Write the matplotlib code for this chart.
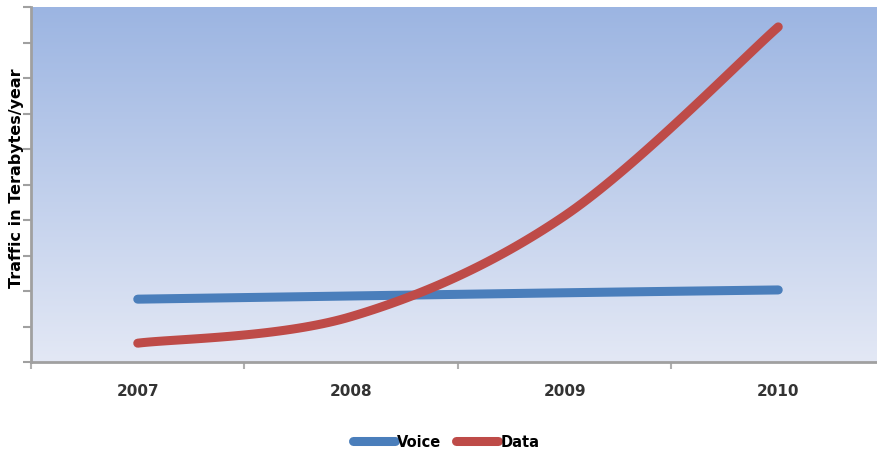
import numpy as np
import matplotlib.pyplot as plt
from matplotlib.colors import LinearSegmentedColormap

anos = ["2007", "2008", "2009", "2010"]
voz = [1.77, 1.86, 1.95, 2.03]
dados = [0.53, 1.28, 4.12, 9.44]

COR_VOZ = "#4a7ebb"
COR_DADOS = "#be4b48"


def suavizar(y, passos=40):
    """Bezier cubica pelos pontos, do jeito da linha suavizada do Excel."""
    pts = np.column_stack([np.arange(len(y)), np.asarray(y, dtype=float)])
    ext = np.vstack([pts[0], pts, pts[-1]])
    xs, ys = [], []
    for i in range(len(pts) - 1):
        p0, p1 = pts[i], pts[i + 1]
        c1 = p0 + (ext[i + 2] - ext[i]) / 6
        c2 = p1 - (ext[i + 3] - ext[i + 1]) / 6
        t = np.linspace(0, 1, passos)[:, None]
        b = ((1 - t) ** 3 * p0 + 3 * (1 - t) ** 2 * t * c1
             + 3 * (1 - t) * t ** 2 * c2 + t ** 3 * p1)
        xs.append(b[:, 0])
        ys.append(b[:, 1])
    return np.concatenate(xs), np.concatenate(ys)


fig = plt.figure(figsize=(8.78, 4.56), dpi=100)
ax = fig.add_axes([31 / 878, 93 / 456, 854 / 878, 355 / 456])

# fundo em degrade
cmap = LinearSegmentedColormap.from_list("fundo", ["#e3e8f5", "#9cb5e2"])
grad = np.linspace(0, 1, 256).reshape(-1, 1)
ax.imshow(grad, cmap=cmap, aspect="auto", origin="lower",
          extent=[-0.5, 3.5, 0, 10], zorder=0)

x = np.arange(len(anos))
xv, yv = suavizar(voz)
xd, yd = suavizar(dados)
ax.plot(xv, yv, color=COR_VOZ, linewidth=6.5, solid_capstyle="round",
        label="Voice", zorder=3)
ax.plot(xd, yd, color=COR_DADOS, linewidth=6.5, solid_capstyle="round",
        label="Data", zorder=3)

ax.set_xlim(-0.5, 3.5)
ax.set_ylim(0, 10)
ax.set_yticks(range(0, 11))
ax.set_yticklabels([])
ax.set_xticks(np.arange(-0.5, 4, 1))
ax.set_xticklabels([])
ax.set_xticks(x, minor=True)
ax.set_xticklabels(anos, minor=True, fontsize=11, fontweight="bold",
                   color="#333333")
ax.tick_params(axis="x", which="minor", length=0, pad=15)
ax.tick_params(axis="x", which="major", length=5, width=1.5, color="#b0b0b0")
ax.tick_params(axis="y", length=6, width=1.5, color="#a0a0a0")

for lado in ["top", "right"]:
    ax.spines[lado].set_visible(False)
for lado in ["left", "bottom"]:
    ax.spines[lado].set_color("#a0a0a0")
    ax.spines[lado].set_linewidth(2)

fig.text(17 / 878, 1 - 178 / 456, "Traffic in Terabytes/year", rotation=90,
         ha="center", va="center", fontsize=11.5, fontweight="bold")

fig.legend(loc="center", bbox_to_anchor=(446 / 878, 1 - 443 / 456), ncol=2,
           frameon=False, handlelength=2.9, handletextpad=0.15,
           columnspacing=1.0, prop={"weight": "bold", "size": 10.5})

fig.savefig("out.png", dpi=100)
